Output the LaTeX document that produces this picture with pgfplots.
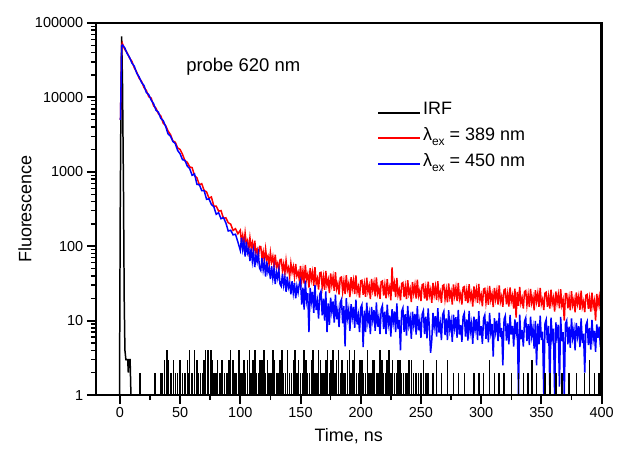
\documentclass[border=0pt]{standalone}
\usepackage{pgfplots}
\pgfplotsset{compat=1.18}
\usepackage{fontspec}
\setmainfont{Liberation Sans}
\definecolor{cred}{RGB}{255,0,0}
\definecolor{cblue}{RGB}{0,0,255}
\newcommand{\lex}{λ\raisebox{-0.55ex}{\fontsize{12}{12}\selectfont ex}}
\begin{document}
\begin{tikzpicture}
\begin{axis}[
  scale only axis, width=507pt, height=373pt,
  xmin=-20, xmax=400, ymin=1, ymax=100000,
  ymode=log,
  axis line style={line width=2.4pt, black},
  xtick={0,50,...,400}, minor x tick num=1,
  ytick={1,10,100,1000,10000,100000},
  yticklabels={1,10,100,1000,10000,100000},
  xtick pos=left, ytick pos=left, tick align=outside,
  major tick length=9pt, minor tick length=5pt,
  major tick style={line width=2pt, black},
  minor tick style={line width=1.4pt, black},
  tick label style={font=\fontsize{14.5}{16}\selectfont},
  /pgf/number format/assume math mode=true,
  xlabel={Time, ns}, ylabel={Fluorescence},
  label style={font=\fontsize{18}{20}\selectfont},
  x label style={at={(axis description cs:0.5,-0.11)}, anchor=center},
  y label style={at={(axis description cs:-0.14,0.5)}, anchor=center},
  legend style={at={(0.55,0.80)}, anchor=north west, draw=none, fill=none,
    font=\fontsize{18}{21}\selectfont, legend cell align=left,
    nodes={text height=13pt, text depth=9pt, inner ysep=2pt}},
  legend image code/.code={\draw[#1, line width=2pt] (0pt,0pt) -- (42pt,0pt);},
]
\addplot[black, line width=1.5pt] coordinates {
(-1,1) (-0.3,1) (0.3,300) (0.9,8000) (1.5,66000) (2.2,15000) (3.0,600) (3.6,20) (4.2,4) (5,3) (6.5,3) (7,2) (7.5,3) (8.5,3) (9.2,1) (12,1)
};
\addlegendentry{IRF}
\addplot[cred, line width=1.5pt] coordinates {
(0.5,5000) (1.5,50000) (2,53600) (4,44260) (6,39810) (8,33880) (10,30450) (12,24920) (14,21850) (16,18070) (18,16460) (20,13570) (22,12360) (24,10210) (26,9795) (28,7685) (30,7161) (32,6026) (34,5623) (36,4493) (38,4193) (40,3527) (42,3173) (44,2603) (46,2495) (48,2094) (50,1995) (52,1718) (54,1413) (56,1341) (58,1161) (60,1138) (62,887) (64,832) (66,667) (68,692) (70,560) (72,537) (74,441) (76,459) (78,347) (80,345) (82,296) (84,301) (86,238) (88,241) (90,207) (92,198) (94,163) (96,172) (98,147)
(100,164) (101,114) (102,140) (103,103) (104,151) (105,107) (106,119) (107,88) (108,130) (109,96.5) (110,112) (111,81) (112,119) (113,81.7) (114,90.4) (115,70.4) (116,99.3) (117,99) (118,68.7) (119,83.9) (120,61.6) (121,91.5) (122,65.5) (123,73.3) (124,55) (125,82.3) (126,61.8) (127,72.6) (128,52.5) (129,77) (130,52.8) (131,59) (132,46.4) (133,66.1) (134,66.6) (135,46.8) (136,57.8) (137,42.9) (138,64) (139,45.9) (140,51.5) (141,39) (142,58.9) (143,44.7) (144,53.1) (145,38.8) (146,57.8) (147,40) (148,44.9) (149,35.4)
(150,54.5) (151,34.4) (152,46.8) (153,31.4) (154,55.9) (155,35.9) (156,42.2) (157,27.8) (158,50.8) (159,35.5) (160,44.8) (161,29.4) (162,52.2) (163,31.5) (164,36.7) (165,26.2) (166,43.9) (167,44.6) (168,28.3) (169,38.5) (170,26) (171,46.4) (172,30.1) (173,35.5) (174,23.5) (175,43.2) (176,30.3) (177,38.5) (178,25.1) (179,44.7) (180,26.9) (181,31.4) (182,22.5) (183,37.9) (184,38.6) (185,24.6) (186,33.7) (187,22.8) (188,40.8) (189,26.5) (190,31.4) (191,20.8) (192,38.5) (193,27) (194,34.5) (195,22.7) (196,40.5) (197,24.4) (198,28.5) (199,20.4) (200,34.4)
(201,34.9) (202,22.3) (203,30.7) (204,20.9) (205,37.7) (206,24.6) (207,29.3) (208,19.5) (209,36.3) (210,25.7)
(211,32.2) (212,21.3) (213,38.2) (214,23.2) (215,27.3) (216,19.7) (217,33.3) (218,34.1) (219,21.8) (220,30.0)
(221,20.0) (222,36.0) (223,23.5) (224,28.0) (225,18.7) (226,52) (227,24.6) (228,31.5) (229,20.8) (230,37.4)
(231,22.1) (232,26.0) (233,18.7) (234,31.7) (235,32.5) (236,20.8) (237,28.6) (238,19.5) (239,35.1) (240,22.9)
(241,26.7) (242,17.8) (243,33.0) (244,23.4) (245,30.0) (246,19.8) (247,35.6) (248,21.6) (249,25.4) (250,18.3)
(251,30.3) (252,31.0) (253,19.8) (254,27.3) (255,18.6) (256,33.5) (257,21.8) (258,26.0) (259,17.4) (260,32.2)
(261,22.3) (262,28.6) (263,18.9) (264,33.9) (265,20.6) (266,24.2) (267,17.4) (268,29.5) (269,30.3) (270,19.4)
(271,25.9) (272,17.6) (273,31.7) (274,20.7) (275,24.7) (276,16.5) (277,30.6) (278,21.6) (279,27.7) (280,18.3)
(281,32.1) (282,19.5) (283,22.9) (284,16.5) (285,27.9) (286,28.6) (287,18.3) (288,25.2) (289,17.2) (290,30.9)
(291,19.5) (292,23.3) (293,15.5) (294,28.9) (295,20.4) (296,26.2) (297,17.3) (298,31.1) (299,18.9) (300,22.2)
(301,15.6) (302,26.5) (303,27.1) (304,17.4) (305,23.9) (306,16.3) (307,29.3) (308,19.1) (309,22.8) (310,15.2)
(311,27.6) (312,19.5) (313,25.0) (314,16.5) (315,29.7) (316,18.0) (317,21.2) (318,15.3) (319,25.9) (320,26.5)
(321,16.6) (322,22.8) (323,15.5) (324,27.9) (325,18.2) (326,21.7) (327,14.5) (328,26.9) (329,11.0) (330,24.4)
(331,15.8) (332,28.3) (333,17.2) (334,20.2) (335,14.5) (336,24.6) (337,25.3) (338,16.2) (339,22.2) (340,15.2)
(341,26.6) (342,17.3) (343,20.7) (344,13.8) (345,25.6) (346,18.1) (347,23.2) (348,15.4) (349,27.6) (350,16.7)
(351,19.3) (352,13.9) (353,23.5) (354,24.1) (355,15.4) (356,21.2) (357,14.5) (358,26.1) (359,17.0) (360,20.3)
(361,13.2) (362,24.6) (363,17.4) (364,22.3) (365,14.7) (366,26.5) (367,16.1) (368,18.9) (369,10.0) (370,23.1)
(371,23.0) (372,14.7) (373,20.2) (374,13.8) (375,24.8) (376,16.2) (377,19.3) (378,12.9) (379,23.9) (380,16.9)
(381,21.2) (382,14.0) (383,25.2) (384,15.3) (385,18.0) (386,13.0) (387,22.0) (388,22.5) (389,14.4) (390,19.8)
(391,13.2) (392,23.8) (393,15.5) (394,18.5) (395,10.0) (396,22.9) (397,16.2) (398,20.8) (399,13.7) (400,24.6)
};
\addlegendentry{\lex{} = 389 nm}
\addplot[cblue, line width=1.5pt] coordinates {
(0.5,5000) (1.5,49000) (2,50700) (4,46620) (6,38960) (8,34590) (10,28910) (12,26240) (14,21110) (16,18840) (18,15850) (20,14450) (22,11600) (24,10880) (26,9195) (28,8231) (30,6722) (32,6324) (34,5212) (36,4875) (38,4064) (40,3236) (42,3016) (44,2564) (46,2391) (48,1930) (50,1748) (52,1455) (54,1424) (56,1193) (58,1102) (60,897) (62,935) (64,678) (66,671) (68,557) (70,557) (72,427) (74,433) (76,364) (78,340) (80,269) (82,282) (84,234) (86,243) (88,206) (90,160) (92,164) (94,142) (96,145) (98,114)
(100,88) (101,130) (102,90.5) (103,114) (104,72.7) (105,115) (106,81.3) (107,91.6) (108,63.3) (109,93.1) (110,62.9) (111,84.8) (112,52.3) (113,75.7) (114,62.1) (115,79.8) (116,50.7) (117,47.2) (118,69.3) (119,48.1) (120,60.4) (121,39) (122,62.5) (123,44.9) (124,51.3) (125,36.1) (126,54) (127,37.2) (128,50.2) (129,31) (130,44.8) (131,37.1) (132,47.9) (133,30.8) (134,28.9) (135,42.8) (136,30) (137,38.1) (138,24.5) (139,39) (140,27.8) (141,32) (142,22.6) (143,34) (144,23.5) (145,32) (146,19.9) (147,29) (148,23.9) (149,31)
(150,34.8) (151,16.5) (152,27.7) (153,14.1) (154,34.4) (155,18.5) (156,23.4) (157,7) (158,27.5) (159,18) (160,24.4) (161,12.7) (162,30.1) (163,13.9) (164,18.2) (165,10.7) (166,22.8) (167,24.9) (168,11.8) (169,19.8) (170,10.0) (171,24.8) (172,7) (173,17.1) (174,8.8) (175,20.3) (176,13.3) (177,18.1) (178,9.4) (179,22.4) (180,10.4) (181,13.7) (182,8.2) (183,17.6) (184,19.3) (185,9.2) (186,15.7) (187,4.5) (188,20) (189,10.9) (190,14) (191,7.3) (192,16.7) (193,11.1) (194,15.3) (195,8.0) (196,19.2) (197,8.9) (198,11.7) (199,7.0) (200,15.0)
(201,16.4) (202,4.4) (203,13.6) (204,7.0) (205,17.5) (206,9.6) (207,12.4) (208,6.6) (209,15.3) (210,10.2)
(211,13.8) (212,7.3) (213,17.6) (214,8.3) (215,11.0) (216,6.6) (217,14.3) (218,16.0) (219,7.7) (220,13.2)
(221,6.6) (222,16.4) (223,9.0) (224,11.7) (225,6.1) (226,14.3) (227,9.5) (228,13.3) (229,7.0) (230,17.0)
(231,7.7) (232,10.2) (233,4) (234,13.3) (235,14.8) (236,7.1) (237,12.2) (238,6.3) (239,15.8) (240,8.7)
(241,10.8) (242,5.7) (243,13.2) (244,8.8) (245,12.3) (246,6.5) (247,15.7) (248,7.4) (249,9.8) (250,5.9)
(251,12.2) (252,13.6) (253,6.6) (254,11.3) (255,5.8) (256,14.6) (257,8.0) (258,3.7) (259,5.5) (260,12.7)
(261,8.3) (262,11.5) (263,6.1) (264,14.7) (265,6.9) (266,9.2) (267,5.5) (268,12.0) (269,13.3) (270,6.4)
(271,10.7) (272,5.5) (273,13.8) (274,7.6) (275,9.8) (276,5.2) (277,12.0) (278,8.0) (279,11.1) (280,5.9)
(281,13.9) (282,6.5) (283,8.7) (284,5.2) (285,11.3) (286,12.6) (287,6.1) (288,10.4) (289,5.4) (290,13.5)
(291,7.1) (292,9.2) (293,4.9) (294,11.3) (295,7.6) (296,10.5) (297,5.5) (298,13.4) (299,6.3) (300,8.4)
(301,4.9) (302,10.7) (303,11.9) (304,5.7) (305,9.8) (306,5.1) (307,12.7) (308,7.0) (309,9.0) (310,3.3)
(311,10.8) (312,7.2) (313,10.0) (314,5.3) (315,12.8) (316,6.0) (317,8.0) (318,2.5) (319,10.4) (320,11.6)
(321,5.4) (322,9.2) (323,4.8) (324,11.9) (325,6.5) (326,8.5) (327,4.5) (328,10.4) (329,6.9) (330,9.6)
(331,1) (332,12.0) (333,5.6) (334,7.5) (335,4.5) (336,9.8) (337,10.9) (338,5.3) (339,9.0) (340,4.7)
(341,11.3) (342,6.2) (343,8.0) (344,4.2) (345,9.9) (346,2.5) (347,9.1) (348,4.8) (349,11.7) (350,5.5)
(351,7.1) (352,1) (353,9.2) (354,10.3) (355,5.0) (356,8.5) (357,1.2) (358,11.0) (359,6.0) (360,7.8)
(361,1) (362,9.5) (363,6.3) (364,8.8) (365,1.3) (366,11.2) (367,5.3) (368,7.0) (369,1) (370,9.1)
(371,10.0) (372,4.8) (373,8.3) (374,4.3) (375,10.7) (376,5.9) (377,7.6) (378,4.0) (379,9.3) (380,6.2)
(381,8.4) (382,4.4) (383,10.7) (384,5.0) (385,6.7) (386,2) (387,8.7) (388,9.7) (389,4.7) (390,8.0)
(391,4.1) (392,10.2) (393,5.6) (394,7.3) (395,3.8) (396,8.9) (397,5.9) (398,8.3) (399,4.4) (400,10.6)
};
\addlegendentry{\lex{} = 450 nm}
\addplot[black, ycomb, line width=1.5pt, forget plot] coordinates {
(16.7,2) (29,2) (34,2) (35.5,2) (37,3) (39,4) (40,3) (42,2) (43,2) (44.5,3) (46,2) (48,2) (50,3) (52,2) (54,2) (56,3) (57,2) (58,4) (60,2) (62,4) (64,3) (65.5,2) (67,2) (69,2) (70,3) (71,4) (73,4) (75.5,4) (76.5,3) (78,2) (80,2) (81,3) (83,2) (85,3) (87,2) (89,2) (90.5,3) (92,4) (94,3) (95.5,2) (97,2) (99,4) (100,2) (101.5,2) (103,3) (104.5,2) (106,3) (107.5,4) (109,2) (110.5,3) (112,4) (113.5,2) (115,2) (116.5,3) (118,3) (119.5,4) (121,2) (122.5,3) (124,2) (125.5,2) (127,4) (128.5,3) (130,2) (131.5,2) (133,3) (134.5,4) (136,2) (137.5,2) (139,4) (141,2) (142.5,2) (144,3) (145.5,4) (147,2) (148.5,3) (150,2) (151.5,2) (153,4) (154.5,3) (156,2) (157.5,2) (159,3) (160.5,4) (162,2) (163.5,2) (165,4) (166.5,3) (168,2) (169.5,2) (171,3) (172.5,4) (174,2) (175.5,3) (177,4) (178.5,2) (180,3) (181.5,4) (183,2) (184.5,3) (186,2) (187.5,2) (189,3) (190.5,4) (192,2) (193.5,3) (195,4) (196.5,2) (198,2) (199.5,3) (201,3) (202.5,2) (204,2) (205.5,4) (207,2) (208.5,2) (210,3) (211.5,3) (213,2) (214.5,2) (216,4) (217.5,3) (219,2) (220.5,2) (222,3) (223.5,4) (225,2) (226.5,3) (228,2) (229.5,2) (231,3) (232.5,3) (234,2) (235.5,2) (237,2) (238.5,2) (240,3) (242,3) (244,2) (246,2) (248,2) (250,2) (252,3) (254,2) (256,2) (260,2) (263,3) (267,2) (272,3) (277,2) (281,2) (286,2) (294,2) (298,2) (302,2) (307,3) (311,2) (315,2) (319,2) (325,2) (331,2) (335,2) (339,2) (342,3) (346,2) (353,2) (357,2) (362,2) (367,2) (373,2) (379,2) (386,2) (390,3) (394,2) (398,2)
};
\node[anchor=west, font=\fontsize{18.5}{20}\selectfont] at (rel axis cs:0.172,0.881) {probe 620 nm};
\coordinate (bl) at (rel axis cs:0,0);
\coordinate (tr) at (rel axis cs:1,1);
\end{axis}
\draw[line width=2.4pt, black] (bl) rectangle (tr);
\path (bl) ++(-96pt,-56pt);
\path (tr) ++(14pt,23pt);
\end{tikzpicture}
\end{document}
